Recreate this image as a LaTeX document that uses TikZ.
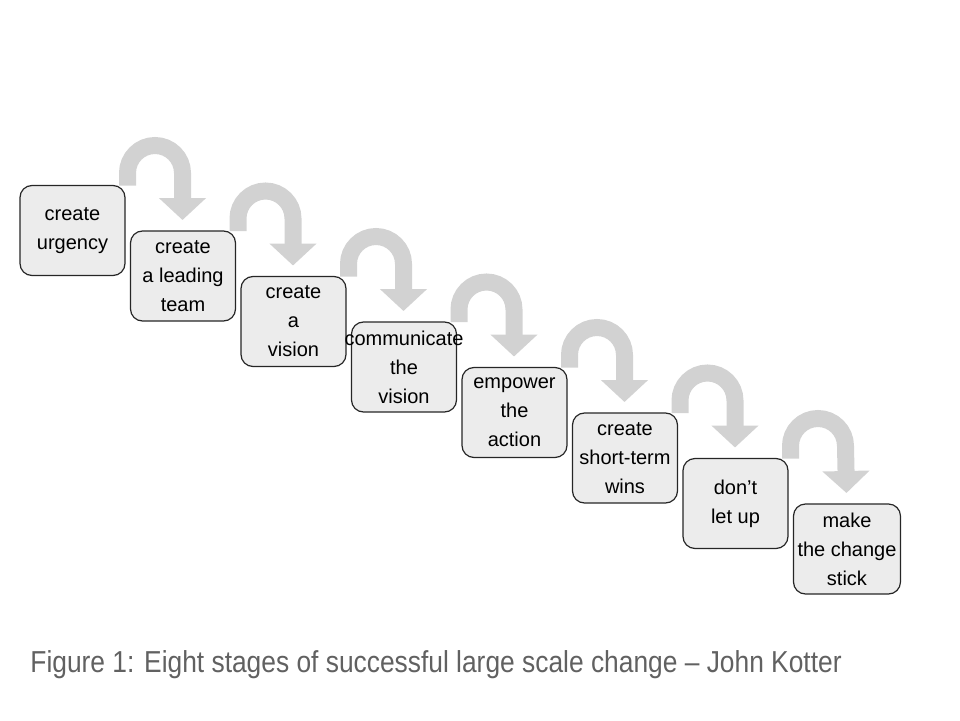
\documentclass[tikz,border=0pt]{standalone}
\usepackage{fontspec}
\setmainfont{Liberation Sans}
\newfontfamily\capfont[FakeStretch=0.87]{Liberation Sans}
\usepackage{tikz}
\usetikzlibrary{arrows.meta,positioning,calc}

\begin{document}
\begin{tikzpicture}[x=0.5pt,y=0.5pt,
    stage/.style={rectangle,rounded corners=6pt,draw=black!85,line width=0.6pt,fill=gray!15,
                  minimum width=52.5pt,minimum height=45pt,inner sep=2pt,outer sep=0pt,align=center,
                  font=\fontsize{10}{14.5}\selectfont},
    hop/.style={draw=gray!35,line width=8.5pt,-{Triangle[width=23pt,length=11pt]}}]
    \useasboundingbox (0,0) rectangle (960,720);
		\node[stage]         (s1)    at (72.5,489.5)    {create\\urgency};
		\node[stage]         (s2)    [below right=22.75pt and 2.75pt of s1.north east]    {create\\a leading\\team};
		\node[stage]         (s3)    [below right=22.75pt and 2.75pt of s2.north east]    {create\\a\\vision};
		\node[stage]         (s4)    [below right=22.75pt and 2.75pt of s3.north east]    {\makebox[40pt]{communicate}\\the\\vision};
		\node[stage]         (s5)    [below right=22.75pt and 2.75pt of s4.north east]    {empower\\the\\action};
		\node[stage]         (s6)    [below right=22.75pt and 2.75pt of s5.north east]    {create\\short-term\\wins};
		\node[stage]         (s7)    [below right=22.75pt and 2.75pt of s6.north east]    {don’t\\let up};
		\node[stage]         (s8)    [below right=22.75pt and 2.75pt of s7.north east]    {make\\the change\\stick};
		\foreach \a/\b in {s1/s2,s2/s3,s3/s4,s4/s5,s5/s6,s6/s7,s7/s8}
		  \path[hop] ($(\a.north east)+(2.5,0)$) -- ++(0,12.5) arc[start angle=180,end angle=0,radius=27.5]
		             -- ($(\b.north)+(-0.5,11)$);
		\node[anchor=base west,inner sep=0pt,text=black!62,font=\capfont\fontsize{15.15}{18}\selectfont] (cap) at (30,48)
		  {Figure 1: Eight stages of successful large scale change – John Kotter};
\end{tikzpicture}
\end{document}
